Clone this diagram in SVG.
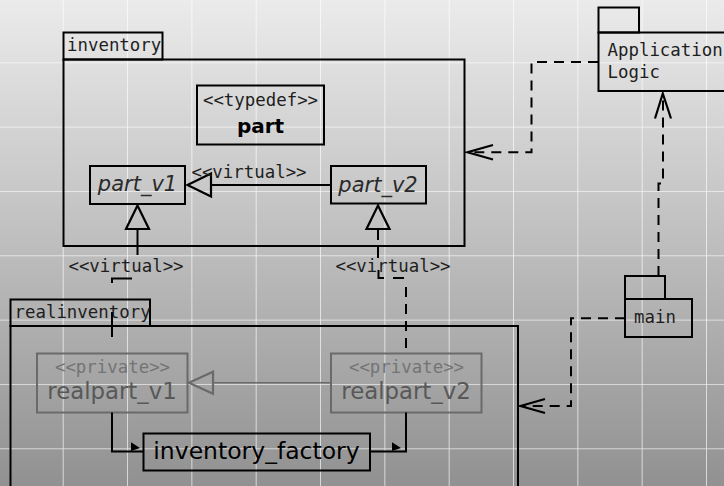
<svg xmlns="http://www.w3.org/2000/svg" width="724" height="486" viewBox="0 0 724 486">
<defs>
<linearGradient id="bg" x1="0" y1="0" x2="0" y2="1">
<stop offset="0" stop-color="#ebebeb"/>
<stop offset="1" stop-color="#919191"/>
</linearGradient>
<pattern id="grid" x="62.7" y="62.3" width="64.33" height="64.33" patternUnits="userSpaceOnUse">
<path d="M0,0 H64.33 M0,0 V64.33" stroke="#ffffff" stroke-opacity="0.8" stroke-width="1.6" fill="none"/>
</pattern>
</defs>
<style>
.pk{fill:none;stroke:#000;stroke-width:2}
.bx{fill:none;stroke:#000;stroke-width:2}
.gbx{fill:none;stroke:#6a6a6a;stroke-width:2}
.mono{font-family:"DejaVu Sans Mono","Liberation Mono",monospace;font-size:17.4px;fill:#1e1e1e}
.sans{font-family:"DejaVu Sans","Liberation Sans",sans-serif}
.ln{fill:none;stroke:#000;stroke-width:2}
.dash{fill:none;stroke:#000;stroke-width:2;stroke-dasharray:10,7}
.tri{fill:none;stroke:#000;stroke-width:2.2}
.open{fill:none;stroke:#000;stroke-width:2.2}
</style>
<rect x="0" y="0" width="724" height="486" fill="url(#bg)"/>
<rect x="0" y="0" width="724" height="486" fill="url(#grid)"/>

<g id="pkg-inventory">
<rect class="pk" x="63.5" y="32.5" width="99" height="27"/>
<rect class="pk" x="63.5" y="59.5" width="401" height="186.5"/>
<text class="mono" x="67" y="50.5">inventory</text>
</g>

<g id="node-part">
<rect class="bx" x="197" y="85.5" width="127" height="59"/>
<text class="mono" x="260.5" y="106" text-anchor="middle">&lt;&lt;typedef&gt;&gt;</text>
<text class="sans" x="260.5" y="132.5" text-anchor="middle" font-size="20" font-weight="bold" fill="#000">part</text>
</g>

<g id="node-part_v1">
<rect class="bx" x="90" y="166" width="95" height="38"/>
<text class="sans" x="137.5" y="190.5" text-anchor="middle" font-size="21" font-style="italic" fill="#2a2a2a">part_v1</text>
</g>

<g id="node-part_v2">
<rect class="bx" x="331" y="166" width="95" height="37.5"/>
<text class="sans" x="378" y="191.5" text-anchor="middle" font-size="21" font-style="italic" fill="#2a2a2a">part_v2</text>
</g>

<g id="pkg-applogic">
<rect class="pk" x="598.5" y="7.5" width="40.5" height="25"/>
<path class="pk" d="M730,32.5 H598.5 V91 H730"/>
<text class="mono" x="607.5" y="55.5">Application</text>
<text class="mono" x="607.5" y="77.5">Logic</text>
</g>

<g id="pkg-main">
<rect class="pk" x="625" y="276" width="40" height="23"/>
<rect class="pk" x="625" y="299" width="67" height="38"/>
<text class="mono" x="634" y="323.3">main</text>
</g>

<g id="pkg-realinventory">
<rect class="pk" x="10.5" y="299.5" width="139.5" height="26.5"/>
<path class="pk" d="M10.5,495 V326 H518 V495"/>
<text class="mono" x="14.5" y="317.5">realinventory</text>
</g>

<g id="node-realpart_v1">
<rect class="gbx" x="37" y="353.5" width="150.5" height="59"/>
<text class="mono" x="112.5" y="373" text-anchor="middle" style="fill:#747474">&lt;&lt;private&gt;&gt;</text>
<text class="sans" x="112" y="399.3" text-anchor="middle" font-size="22.8" fill="#585858">realpart_v1</text>
</g>

<g id="node-realpart_v2">
<rect class="gbx" x="331" y="353.5" width="150.5" height="59"/>
<text class="mono" x="406.5" y="373" text-anchor="middle" style="fill:#747474">&lt;&lt;private&gt;&gt;</text>
<text class="sans" x="406" y="399.3" text-anchor="middle" font-size="22.8" fill="#585858">realpart_v2</text>
</g>

<g id="node-inventory_factory">
<rect class="bx" x="143.5" y="433.5" width="226.5" height="37"/>
<text class="sans" x="256.5" y="458.5" text-anchor="middle" font-size="23.5" fill="#000">inventory_factory</text>
</g>

<g id="connectors">
<line class="ln" x1="331" y1="185" x2="211" y2="185"/>
<polygon class="tri" points="187.5,185 211,173.5 211,196.5"/>
<text class="mono" x="249" y="178.3" text-anchor="middle">&lt;&lt;virtual&gt;&gt;</text>

<polygon class="tri" points="137.5,205.5 126,229 149,229"/>
<line class="ln" x1="137.5" y1="229" x2="137.5" y2="255"/>
<text class="mono" x="126" y="271.7" text-anchor="middle">&lt;&lt;virtual&gt;&gt;</text>
<path class="ln" d="M112,283 V278.5 H132"/>
<line class="ln" x1="112" y1="312" x2="112" y2="337"/>

<polygon class="tri" points="378,205.5 366.5,229 389.5,229"/>
<line class="ln" x1="378" y1="229" x2="378" y2="240"/>
<line class="ln" x1="378" y1="246" x2="378" y2="258"/>
<text class="mono" x="393" y="271.7" text-anchor="middle">&lt;&lt;virtual&gt;&gt;</text>
<path class="ln" d="M378.5,270 V278 H384"/>
<line class="ln" x1="393" y1="278" x2="404" y2="278"/>
<path class="dash" d="M406,287 V353"/>

<line x1="331" y1="382.7" x2="213" y2="382.7" stroke="#6a6a6a" stroke-width="1.6"/>
<polygon points="189,382.7 213,371.7 213,393.7" fill="none" stroke="#6a6a6a" stroke-width="2.2"/>

<path class="ln" d="M112,412.5 V451.5 H143"/>
<polygon points="131,442.3 140,448 131,451" fill="#000"/>
<path class="ln" d="M406,412.5 V451.5 H370"/>
<polygon points="392,442.3 401,448 392,451" fill="#000"/>

<path class="dash" d="M598,62 H531.5 V152.3 H468"/>
<path class="open" d="M493,145 L467.5,152.3 L493,159.5"/>

<path class="dash" d="M658.5,276 V183.5 H663 V95"/>
<path class="open" d="M655,118.5 L662.8,93.5 L671,118.5"/>

<path class="dash" d="M625,318.3 H571 V406 H521"/>
<path class="open" d="M545,399 L520.5,406 L545,413"/>
</g>
</svg>
